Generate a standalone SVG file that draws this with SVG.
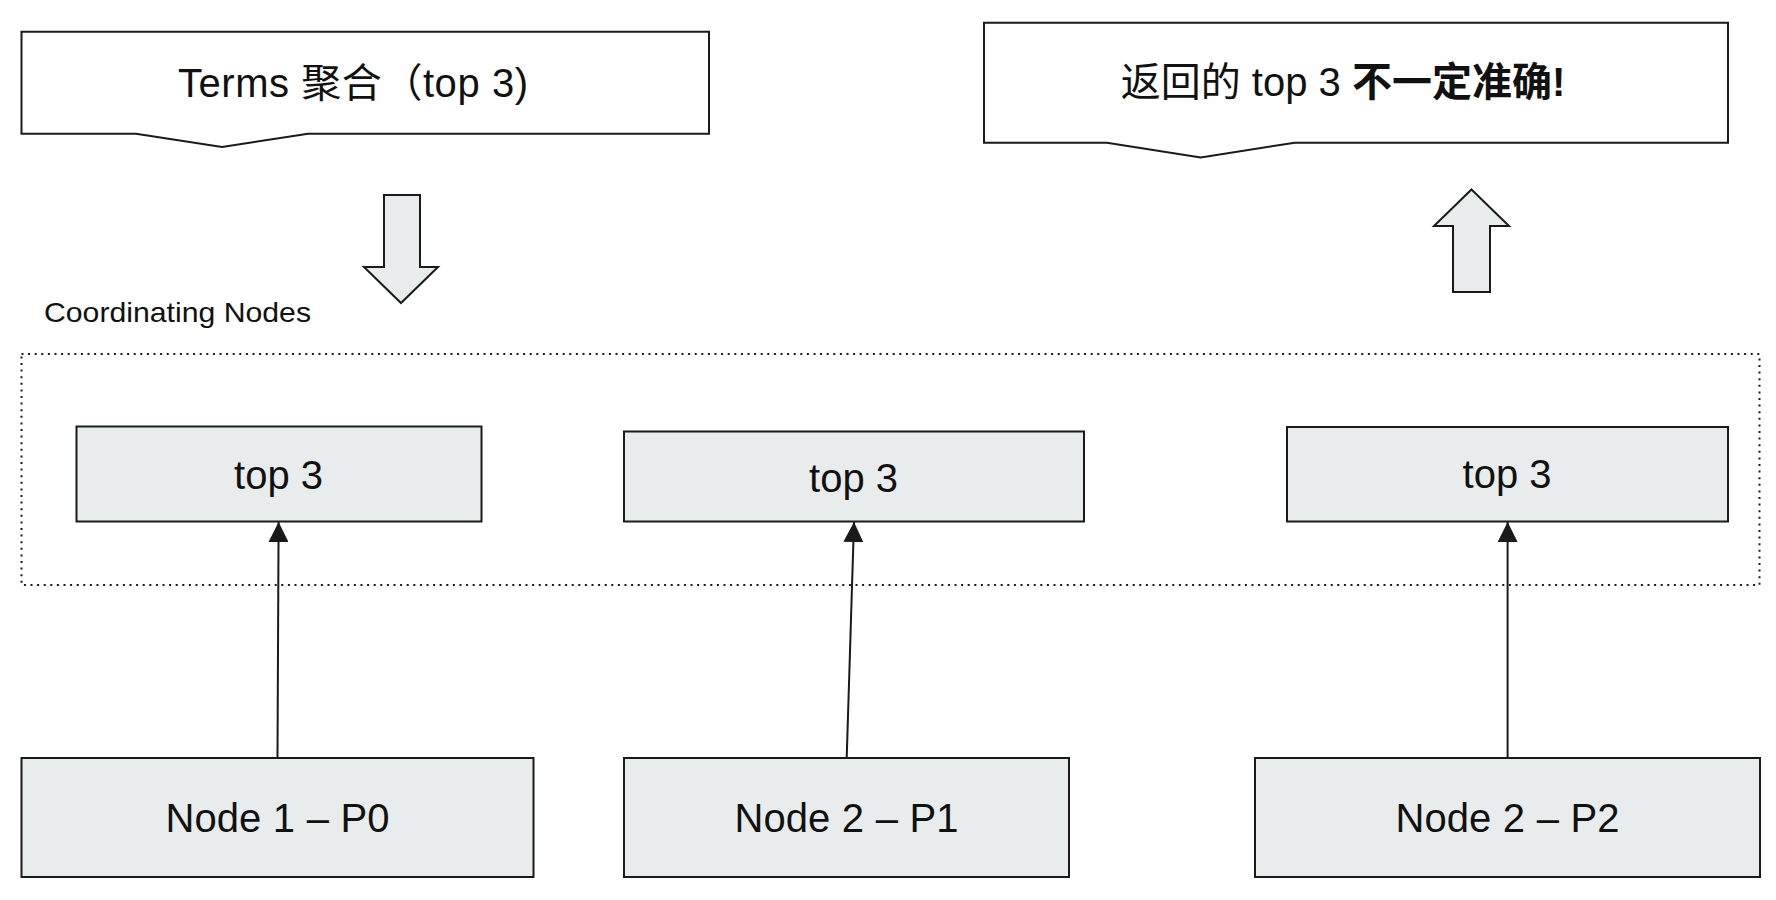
<svg xmlns="http://www.w3.org/2000/svg" width="1776" height="900" viewBox="0 0 1776 900">
<style>
text{font-family:"Liberation Sans","Noto Sans CJK SC",sans-serif;fill:#111}
.lbl{font-size:40px;text-anchor:middle}
.nl{word-spacing:0.5px}
.box{fill:#e9ecec;stroke:#1a1a1a;stroke-width:2}
.callout{fill:#fff;stroke:#1a1a1a;stroke-width:2}
.conn{stroke:#1a1a1a;stroke-width:2;fill:none;marker-end:url(#ah)}
</style>
<defs>
<marker id="ah" markerUnits="userSpaceOnUse" markerWidth="20" markerHeight="20" viewBox="0 0 19 19" refX="19" refY="9.5" orient="auto">
<path d="M0,0 L19,9.5 L0,19 z" fill="#1a1a1a"/>
</marker>
</defs>
<rect width="1776" height="900" fill="#fff"/>
<g id="callout-left">
<path class="callout" d="M21.5,31.7 H709 V133.7 H308 L222,147 L136,133.7 H21.5 Z"/>
<text class="lbl" x="353" y="97" textLength="350" lengthAdjust="spacing">Terms 聚合（top 3)</text>
</g>
<g id="callout-right">
<path class="callout" d="M984,22.7 H1728 V142.7 H1294.7 L1200.7,157.5 L1107,142.7 H984 Z"/>
<text class="lbl" x="1343" y="96">返回的 top 3 <tspan font-weight="bold">不一定准确!</tspan></text>
</g>
<g id="arrow-down">
<path class="box" d="M384,195 H420 V267 H438 L401,303 L364,267 H384 Z"/>
</g>
<g id="arrow-up">
<path class="box" d="M1471.5,189.5 L1509,226 H1490 V292 H1453 V226 H1434 Z"/>
</g>
<g id="coordinating">
<rect x="21.5" y="354" width="1738" height="231" fill="none" stroke="#1a1a1a" stroke-width="2" stroke-dasharray="2,4.6"/>
<text x="44" y="322" font-size="28" textLength="267" lengthAdjust="spacingAndGlyphs">Coordinating Nodes</text>
</g>
<g id="top3-a">
<rect class="box" x="76.5" y="426.5" width="405" height="95"/>
<text class="lbl" x="278.6" y="489">top 3</text>
</g>
<g id="top3-b">
<rect class="box" x="624" y="431.5" width="460" height="90"/>
<text class="lbl" x="853.5" y="491.5">top 3</text>
</g>
<g id="top3-c">
<rect class="box" x="1287" y="427" width="441" height="94.5"/>
<text class="lbl" x="1507" y="488">top 3</text>
</g>
<g id="node1">
<rect class="box" x="21.5" y="758" width="512" height="119"/>
<text class="lbl nl" x="277.5" y="832">Node 1 – P0</text>
</g>
<g id="node2">
<rect class="box" x="624" y="758" width="445" height="119"/>
<text class="lbl nl" x="846.5" y="832">Node 2 – P1</text>
</g>
<g id="node3">
<rect class="box" x="1255" y="758" width="505" height="119"/>
<text class="lbl nl" x="1507.5" y="832">Node 2 – P2</text>
</g>
<g id="connectors">
<line class="conn" x1="277.5" y1="758" x2="278.6" y2="522"/>
<line class="conn" x1="846.7" y1="758" x2="854" y2="522"/>
<line class="conn" x1="1507.6" y1="758" x2="1507.6" y2="522"/>
</g>
</svg>
